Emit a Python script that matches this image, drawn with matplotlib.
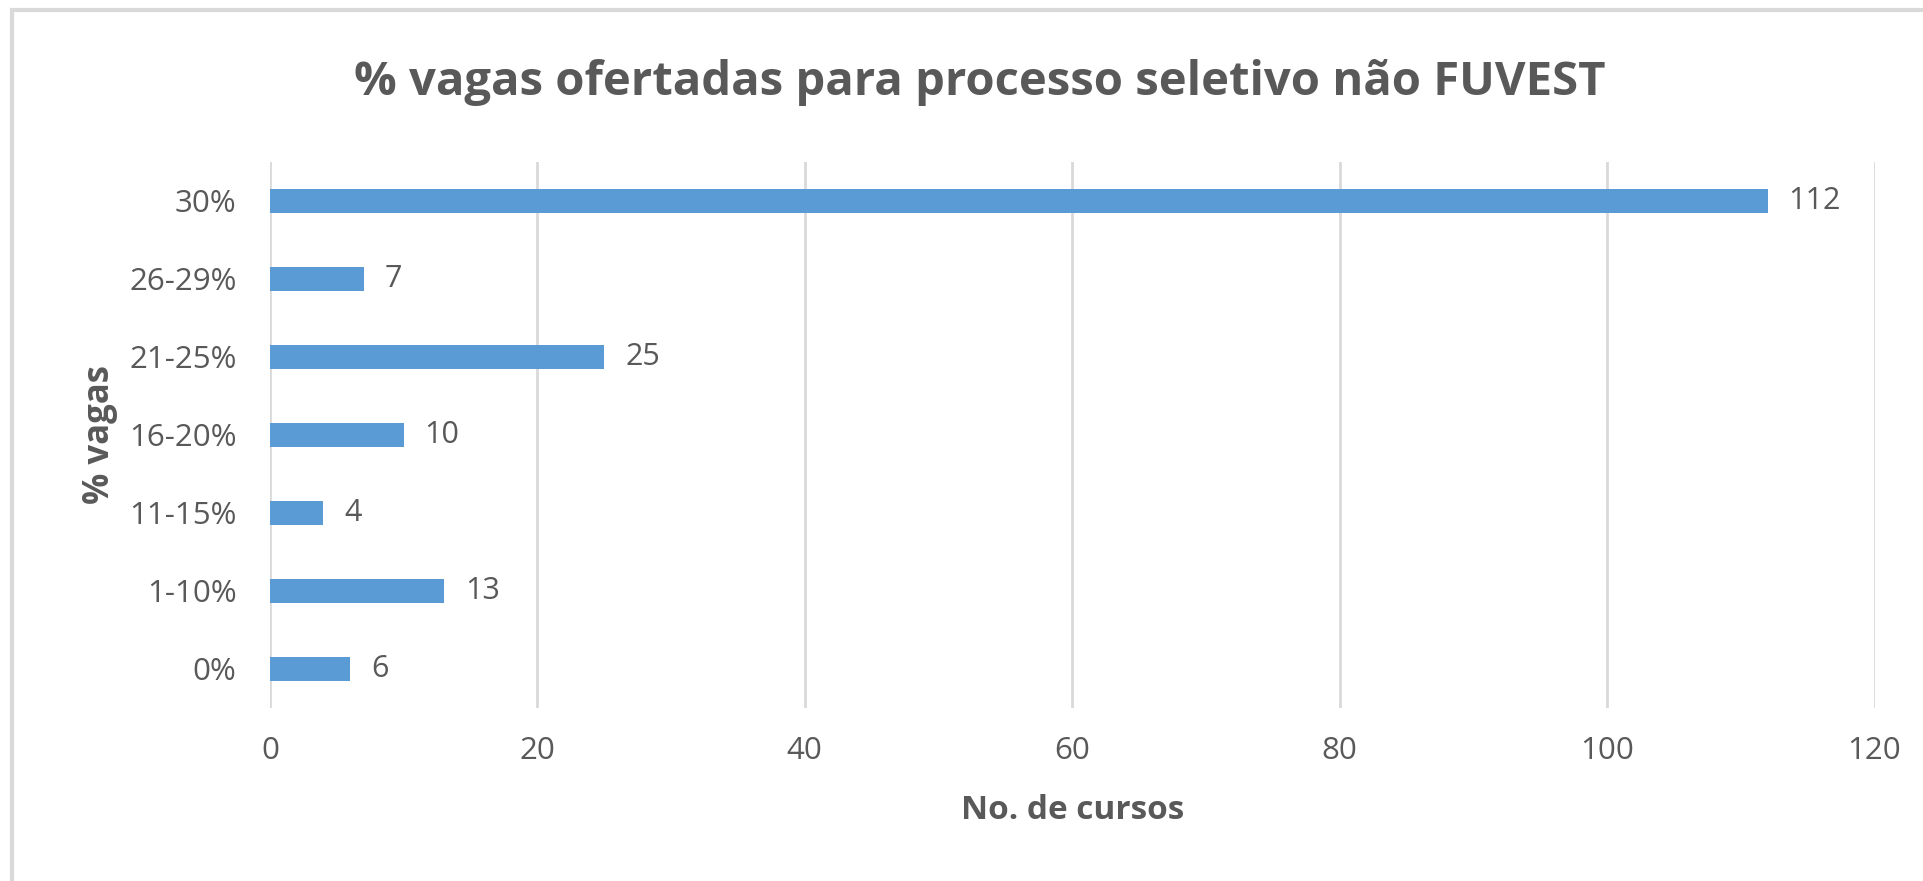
import matplotlib.pyplot as plt
from matplotlib.patches import Rectangle

# Data
categorias = ["0%", "1-10%", "11-15%", "16-20%", "21-25%", "26-29%", "30%"]
cursos = [6, 13, 4, 10, 25, 7, 112]
xticks = [0, 20, 40, 60, 80, 100, 120]

texto = "#595959"
grade = "#D9D9D9"
azul = "#5B9BD5"
plt.rcParams["font.family"] = ["Open Sans", "DejaVu Sans"]

fig = plt.figure(figsize=(19.24, 8.81), dpi=100)
ax = fig.add_axes([0.1403, 0.1964, 0.834, 0.620])

bars = ax.barh(categorias, cursos, height=0.31, color=azul)
for b, v in zip(bars, cursos):
    ax.annotate(str(v), (b.get_width(), b.get_y() + b.get_height() / 2),
                xytext=(21, 0), textcoords="offset pixels",
                va="center", ha="left", fontsize=22, color=texto)

ax.set_xlim(0, 120)
ax.set_ylim(-0.5, len(categorias) - 0.5)
ax.set_xticks(xticks)
ax.xaxis.grid(True, color=grade, linewidth=2)
ax.set_axisbelow(True)
for s in ax.spines.values():
    s.set_visible(False)
ax.tick_params(axis="both", length=0, labelsize=22.5, colors=texto)
ax.tick_params(axis="x", pad=20)
ax.tick_params(axis="y", pad=24)

ax.set_xlabel("No. de cursos", fontsize=24, fontweight="bold", color=texto, labelpad=20)
ax.set_ylabel("% vagas", fontsize=25, fontweight="bold", color=texto, labelpad=8)

fig.suptitle("% vagas ofertadas para processo seletivo não FUVEST",
             x=0.509, y=0.906, va="center", fontsize=34, fontweight="bold", color=texto)

# light chart-area frame
fig.patches.append(Rectangle((12 / 1924, -0.1), 1.2, 1 - 10 / 881 + 0.1,
                             transform=fig.transFigure, fill=False,
                             edgecolor="#D9D9D9", linewidth=3))

plt.savefig("out.png", dpi=100)
